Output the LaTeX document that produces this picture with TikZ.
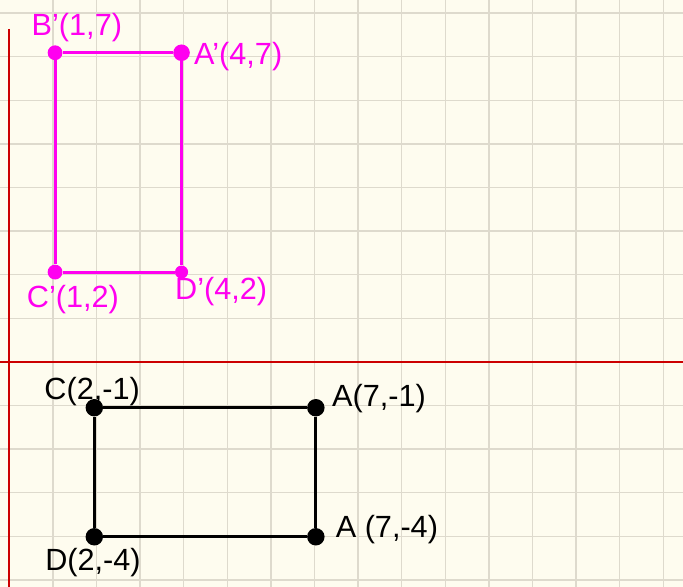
\documentclass[tikz,border=0pt]{standalone}
\usepackage{fontspec}
\setmainfont{Liberation Sans}
\usetikzlibrary{positioning}
\definecolor{paper}{HTML}{FEFCEF}
\definecolor{gridline}{HTML}{DEDACD}
\definecolor{axisred}{HTML}{CC0000}
\definecolor{imgpink}{HTML}{FF00F0}

\begin{document}
\begin{tikzpicture}[x=1cm, y=1cm,
    lbl/.style={font=\fontsize{20}{23}\selectfont, inner sep=0pt},
    pdot/.style={circle, fill=imgpink, inner sep=0pt, minimum size=0.34cm},
    kdot/.style={circle, fill=black, inner sep=0pt, minimum size=0.4cm}]
            % 背景与边界
            \fill[paper] (-0.213,-5.16) rectangle (15.45,8.30);
            \useasboundingbox (-0.213,-5.16) rectangle (15.45,8.30);
            
            % 方格纸
            \foreach \i in {1,...,15} \draw[gridline, line width=0.9pt] (\i,-5.16)--(\i,8.30);
            \foreach \j in {-5,...,8} \draw[gridline, line width=0.9pt] (-0.213,\j)--(15.45,\j);
            
            % 坐标轴（红色）
            \draw[axisred, line width=1.3pt] (-0.213,0)--(15.45,0);
            \draw[axisred, line width=1.3pt] (0,7.64)--(0,-5.16);
            
            % 像的顶点（品红）
            \node[pdot] (Bp) at (1.05,7.09) {};
            \node[pdot, minimum size=0.38cm] (Ap) at (3.95,7.09) {};
            \node[pdot] (Cp) at (1.05,2.06) {};
            \node[pdot, minimum size=0.3cm] (Dp) at (3.95,2.06) {};
            \draw[imgpink, line width=2pt] (Bp)--(Ap)--(Dp)--(Cp)--(Bp);
            
            % 品红标注
            \node[lbl, imgpink] (lBp) at (1.55,7.66) {B'(1,7)};
            \node[lbl, imgpink] (lAp) at (5.25,7.00) {A'(4,7)};
            \node[lbl, imgpink] (lCp) at (1.46,1.44) {C'(1,2)};
            \node[lbl, imgpink] (lDp) at (4.86,1.61) {D'(4,2)};
            
            % 原图顶点（黑色）
            \node[kdot] (C) at (1.95,-1.05) {};
            \node[kdot] (A1) at (7.03,-1.05) {};
            \node[kdot] (A2) at (7.03,-4.01) {};
            \node[kdot] (D) at (1.95,-4.01) {};
            \draw[black, line width=1.8pt] (C)--(A1)--(A2)--(D)--(C);
            
            % 黑色标注
            \node[lbl] (lC) at (1.90,-0.67) {C(2,-1)};
            \node[lbl] (lA1) at (8.48,-0.85) {A(7,-1)};
            \node[lbl] (lA2) at (8.66,-3.85) {A (7,-4)};
            \node[lbl] (lD) at (1.92,-4.59) {D(2,-4)};
        \end{tikzpicture}
\end{document}
